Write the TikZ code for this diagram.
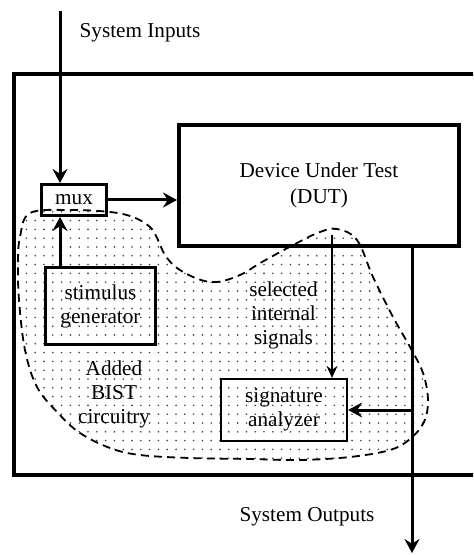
\documentclass[tikz,border=0pt]{standalone}
\usepackage{fontspec}
\setmainfont{Liberation Serif}
\usepackage{tikz}
\usetikzlibrary{positioning, arrows.meta, patterns}
\pgfdeclarepatternformonly{bistdots}{\pgfqpoint{-1pt}{-1pt}}{\pgfqpoint{1pt}{1pt}}{\pgfqpoint{4.4pt}{4.4pt}}{\pgfpathcircle{\pgfqpoint{0pt}{0pt}}{.45pt}\pgfusepath{fill}}

\begin{document}
\begin{tikzpicture}[x=.5pt, y=-.5pt,
  every node/.style={font=\fontsize{10.6}{12}\selectfont},
  block/.style={rectangle, draw, align=center, line width=1.5pt, inner sep=0pt},
  label/.style={align=center, inner sep=0pt},
  bus/.style={line width=1.5pt, -{Stealth[length=7pt, width=7.5pt, inset=2.4pt]}},
  tap/.style={line width=1pt, -{Stealth[length=6pt, width=5.5pt, inset=2pt]}}]

\useasboundingbox (0,0) rectangle (473,555);
\clip (0,0) rectangle (473,555);

% BIST AREA

\draw[dash pattern=on 4pt off 2.6pt, line width=.9pt, pattern=bistdots, pattern color=black!75]
  plot[smooth cycle, tension=.6] coordinates {
  (30,213) (70,210) (110,212) (133,217) (150,227) (158,240) (165,255) (177,268)
  (198,279) (217,282) (240,275) (262,262) (297,243) (320,232) (337,229) (357,240)
  (373,277) (393,317) (410,347) (423,373) (428,400) (424,422) (410,439) (390,450)
  (350,457) (300,460) (250,459) (190,458) (140,455) (110,448) (80,433) (58,413)
  (37,387) (25,350) (19,300) (18,263) (20,237)};

% CHIP

\draw[line width=2pt] (13.5,74.5) rectangle (495,475);

% BLOCKS

\node[block, line width=2pt, minimum width=140pt, minimum height=60.5pt] (dut) at (319,185.5)
  {Device Under Test\\[1pt](DUT)};
\node[block, minimum width=32.5pt, minimum height=15.5pt] (mux) at (74,200) {mux};
\node[block, minimum width=55pt, minimum height=38.5pt] (stim) at (100.5,306)
  {stimulus\\generator};
\node[block, line width=1.1pt, minimum width=63pt, minimum height=31pt] (sig) at (284,410)
  {signature\\analyzer};

% LABELS

\coordinate (in) at (60,11);
\coordinate (out) at (412,553);
\coordinate (probe) at (332,235);

\node[label] (intitle) at (140,33) {System Inputs};
\node[label] (outtitle) at (307,517) {System Outputs};
\node[label, left=7pt of probe, anchor=north east, yshift=-23pt] (probetitle)
  {selected\\internal\\signals};
\node[label] (bisttitle) at (114,394) {Added\\BIST\\circuitry};

% SIGNALS

\draw[bus] (in) -- (in |- mux.north);
\draw[bus] (in |- stim.north) -- (in |- mux.south);
\draw[bus] (mux.east) -- (mux.east -| dut.west);
\draw[tap] (probe) -- (probe |- sig.north);
\draw[bus] (out |- dut.south) -- (out);
\draw[bus] (out |- sig.east) -- (sig.east);

\end{tikzpicture}
\end{document}
